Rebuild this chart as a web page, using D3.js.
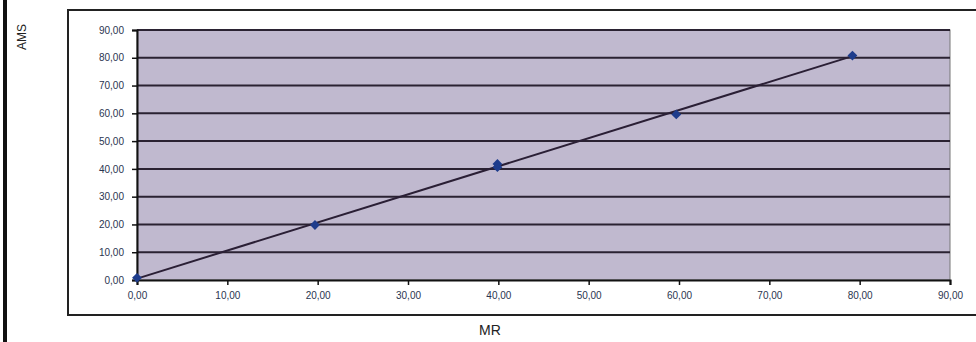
<html>
<head>
<meta charset="utf-8">
<title>AMS vs MR</title>
<script src="https://d3js.org/d3.v7.min.js"></script>
<style>
  body { margin: 0; background: #fff; }
  text { font-family: Arial, "Liberation Sans", sans-serif; }
</style>
</head>
<body>
<script>
// values
var mrValues = [0, 19.7, 39.9, 39.9, 59.7, 79.2];
var amsValues = [0.8, 19.8, 40.6, 41.8, 59.6, 80.8];
var trendX = [0, 79.2];
var trendY = [0.5, 80.6];
var tickValues = [0, 10, 20, 30, 40, 50, 60, 70, 80, 90];

var width = 976, height = 342;
var svg = d3.select("body").append("svg")
    .attr("width", width).attr("height", height);

var plotLeft = 137, plotRight = 950, plotTop = 30, plotBottom = 280;

var x = d3.scaleLinear().domain([0, 90]).range([plotLeft, plotRight]);
var y = d3.scaleLinear().domain([0, 90]).range([plotBottom, plotTop]);
var fmt = function(d) { return d3.format(".2f")(d).replace(".", ","); };

// thick page edge on the left
svg.append("rect").attr("x", 3).attr("y", 0).attr("width", 4).attr("height", height).attr("fill", "#111");

// chart frame
svg.append("path")
    .attr("d", "M" + width + ",10 L68,10 L68,315 L" + width + ",315")
    .attr("fill", "none").attr("stroke", "#222").attr("stroke-width", 2);

// plot area
svg.append("rect")
    .attr("x", plotLeft).attr("y", plotTop)
    .attr("width", plotRight - plotLeft).attr("height", plotBottom - plotTop)
    .attr("fill", "#c0b9cf").attr("stroke", "#777").attr("stroke-width", 1);

// gridlines
svg.append("g").selectAll("line").data(tickValues.slice(1)).enter().append("line")
    .attr("x1", plotLeft).attr("x2", plotRight)
    .attr("y1", function(d) { return y(d); }).attr("y2", function(d) { return y(d); })
    .attr("stroke", "#2a2232").attr("stroke-width", 2);

// axes
var yAxis = svg.append("g").attr("transform", "translate(" + plotLeft + ",0)")
    .call(d3.axisLeft(y).tickValues(tickValues).tickFormat(fmt).tickSize(5).tickPadding(8));
var xAxis = svg.append("g").attr("transform", "translate(0," + plotBottom + ")")
    .call(d3.axisBottom(x).tickValues(tickValues).tickFormat(fmt).tickSize(5).tickPadding(6));

[yAxis, xAxis].forEach(function(a) {
  a.select(".domain").attr("stroke", "#111").attr("stroke-width", 2);
  a.selectAll(".tick line").attr("stroke", "#111").attr("stroke-width", 1.5);
  a.selectAll(".tick text").attr("font-size", 10).attr("fill", "#2a3550")
      .attr("font-family", "Arial, 'Liberation Sans', sans-serif");
});
xAxis.selectAll(".tick text").attr("dy", "0.8em");

// trend line
var line = d3.line().x(function(d) { return x(d[0]); }).y(function(d) { return y(d[1]); });
svg.append("path")
    .datum(d3.zip(trendX, trendY))
    .attr("d", line)
    .attr("fill", "none").attr("stroke", "#2a1f35").attr("stroke-width", 2);

// markers: square turned 45 degrees
var marker = d3.symbol().type(d3.symbolSquare).size(48);
svg.append("g").selectAll("path").data(d3.zip(mrValues, amsValues)).enter().append("path")
    .attr("d", marker)
    .attr("transform", function(d) { return "translate(" + x(d[0]) + "," + y(d[1]) + ") rotate(45)"; })
    .attr("fill", "#1e3c8c");

// axis titles
svg.append("text")
    .attr("transform", "translate(26,37) rotate(-90)")
    .attr("text-anchor", "middle").attr("font-size", 12).attr("fill", "#222")
    .text("AMS");
svg.append("text")
    .attr("x", 490).attr("y", 335)
    .attr("text-anchor", "middle").attr("font-size", 14).attr("fill", "#222")
    .text("MR");
</script>
</body>
</html>
